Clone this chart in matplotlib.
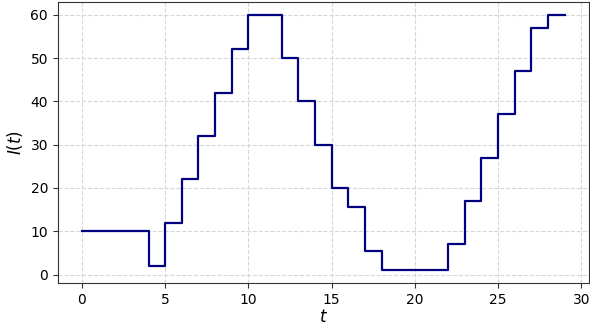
import matplotlib
matplotlib.use("Agg")
import matplotlib.pyplot as plt

t = list(range(30))
I = [10, 10, 10, 10, 2, 12, 22, 32, 42, 52, 60, 60, 50, 40, 30, 20, 15.5, 5.5,
     1, 1, 1, 1, 7, 17, 27, 37, 47, 57, 60, 60]

fig = plt.figure(figsize=(5.9, 3.31), dpi=100)
ax = fig.add_axes([0.098, 0.145, 0.9, 0.849])
ax.step(t, I, where='post', color='navy', lw=1.6)
ax.grid(True, linestyle='--', color='lightgray', alpha=0.9)
ax.set_xlabel('$t$', fontsize=12, labelpad=1)
ax.set_ylabel('$I(t)$', fontsize=12)
ax.set_xticks([0, 5, 10, 15, 20, 25, 30])
ax.set_yticks([0, 10, 20, 30, 40, 50, 60])
ax.set_xlim(-1.45, 30.45)
for s in ax.spines.values():
    s.set_color('#333333')
ax.tick_params(colors='#333333', labelcolor='black')
fig.savefig('out.png', dpi=100)
